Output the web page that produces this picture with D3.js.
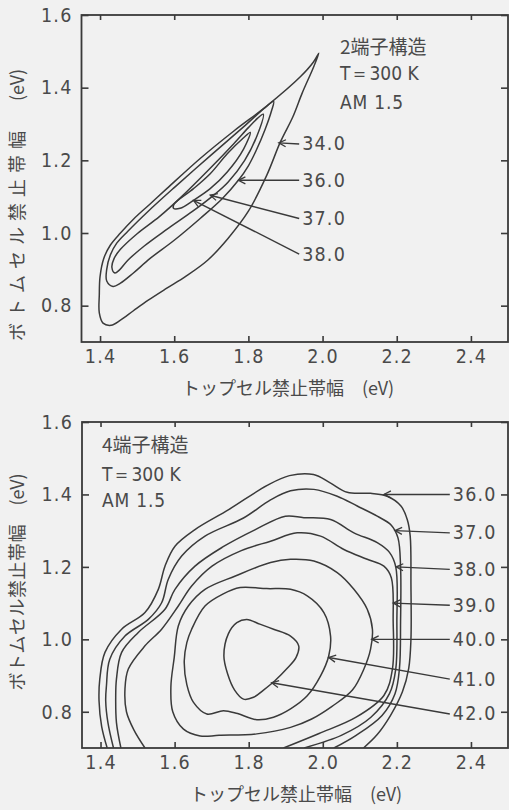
<!DOCTYPE html>
<html>
<head>
<meta charset="utf-8">
<script src="https://cdn.jsdelivr.net/npm/d3@7"></script>
<style>
  body { margin: 0; background: #f1f1f1; }
  svg { display: block; }
  .num { font-family: 'Liberation Sans Narrow', 'DejaVu Sans Condensed', 'Arial Narrow', sans-serif; font-size: 19.5px; fill: #4a4a4a; letter-spacing: 1.2px; }
  .info { font-family: 'DejaVu Sans Condensed', sans-serif; font-size: 19px; fill: #4a4a4a; letter-spacing: 0; }
  .jp { font-family: 'Noto Sans CJK JP', sans-serif; font-size: 18px; fill: #4a4a4a; }
  .contour { fill: none; stroke: #3a3a3a; stroke-width: 1.5; }
  .leader { stroke: #3a3a3a; stroke-width: 1.4; }
</style>
</head>
<body>
<script>
const W = 509, H = 810;

// shared axis ticks
const xTicks = [1.4, 1.6, 1.8, 2.0, 2.2, 2.4];
const yTicks = [0.8, 1.0, 1.2, 1.4, 1.6];

// --- 2-terminal panel: contour lines (top gap, bottom gap) in eV ---
const top34 = [[1.99,1.495],[1.975,1.455],[1.945,1.385],[1.92,1.32],[1.886,1.25],[1.85,1.16],[1.80,1.06],[1.745,0.985],[1.69,0.925],[1.63,0.88],[1.58,0.848],[1.53,0.815],[1.49,0.786],[1.455,0.76],[1.43,0.746],[1.408,0.752],[1.398,0.78],[1.398,0.83],[1.40,0.88],[1.41,0.93],[1.428,0.967],[1.455,1.0],[1.49,1.038],[1.535,1.08],[1.58,1.122],[1.67,1.205],[1.76,1.28],[1.85,1.35],[1.94,1.43],[1.975,1.47]];
const top36 = [[1.868,1.362],[1.862,1.335],[1.845,1.285],[1.82,1.225],[1.80,1.185],[1.773,1.145],[1.73,1.095],[1.67,1.04],[1.60,0.98],[1.535,0.93],[1.49,0.89],[1.455,0.862],[1.435,0.853],[1.418,0.868],[1.418,0.90],[1.428,0.94],[1.445,0.972],[1.475,1.005],[1.53,1.06],[1.60,1.125],[1.70,1.215],[1.79,1.295],[1.845,1.345]];
const top37 = [[1.84,1.327],[1.823,1.267],[1.79,1.20],[1.745,1.14],[1.705,1.103],[1.65,1.06],[1.58,1.01],[1.52,0.965],[1.475,0.925],[1.452,0.898],[1.44,0.89],[1.432,0.905],[1.438,0.93],[1.455,0.955],[1.50,0.998],[1.56,1.045],[1.62,1.10],[1.697,1.178],[1.76,1.245],[1.80,1.29],[1.825,1.316]];
const top38 = [[1.805,1.277],[1.787,1.231],[1.743,1.168],[1.697,1.122],[1.652,1.09],[1.616,1.068],[1.598,1.068],[1.60,1.08],[1.652,1.122],[1.697,1.163],[1.743,1.218],[1.787,1.262]];
const topLevels = ['34.0', '36.0', '37.0', '38.0'];
const topLabelY = [1.245, 1.145, 1.04, 0.942];
const topTargets = [[1.882,1.248],[1.773,1.145],[1.697,1.104],[1.652,1.09]];

// --- 4-terminal panel ---
const bot36 = [[1.418,0.70],[1.403,0.76],[1.396,0.83],[1.398,0.89],[1.412,0.964],[1.457,1.028],[1.52,1.074],[1.556,1.138],[1.574,1.202],[1.601,1.257],[1.655,1.303],[1.746,1.358],[1.85,1.425],[1.91,1.452],[1.975,1.455],[2.02,1.432],[2.066,1.406],[2.129,1.403],[2.174,1.395],[2.211,1.368],[2.228,1.331],[2.236,1.285],[2.238,1.15],[2.238,1.0],[2.232,0.92],[2.215,0.855],[2.183,0.79],[2.147,0.737],[2.11,0.70]];
const bot37 = [[1.435,0.70],[1.42,0.77],[1.414,0.83],[1.416,0.872],[1.425,0.945],[1.466,1.009],[1.529,1.055],[1.565,1.101],[1.583,1.166],[1.619,1.23],[1.682,1.285],[1.786,1.335],[1.859,1.385],[1.913,1.41],[1.976,1.414],[2.039,1.395],[2.093,1.368],[2.147,1.34],[2.185,1.315],[2.203,1.28],[2.21,1.2],[2.21,1.05],[2.207,0.92],[2.195,0.85],[2.16,0.79],[2.09,0.735],[2.03,0.70]];
const bot38 = [[1.455,0.70],[1.443,0.77],[1.441,0.84],[1.443,0.89],[1.457,0.964],[1.502,1.019],[1.574,1.083],[1.601,1.138],[1.655,1.202],[1.73,1.255],[1.818,1.303],[1.899,1.34],[1.949,1.336],[2.021,1.331],[2.084,1.294],[2.147,1.267],[2.18,1.24],[2.197,1.2],[2.2,1.05],[2.197,0.918],[2.18,0.85],[2.13,0.785],[2.05,0.735],[1.95,0.70]];
const bot39 = [[1.52,0.70],[1.49,0.75],[1.47,0.80],[1.466,0.863],[1.475,0.918],[1.52,0.982],[1.565,1.028],[1.61,1.092],[1.646,1.147],[1.701,1.202],[1.78,1.245],[1.859,1.271],[1.931,1.294],[1.994,1.285],[2.057,1.248],[2.12,1.221],[2.165,1.202],[2.185,1.17],[2.19,1.05],[2.188,0.918],[2.165,0.845],[2.09,0.785],[1.99,0.74],[1.894,0.70]];
const bot40 = [[1.599,0.95],[1.61,1.037],[1.637,1.092],[1.682,1.138],[1.764,1.175],[1.859,1.212],[1.913,1.221],[1.976,1.216],[2.039,1.184],[2.084,1.138],[2.12,1.083],[2.134,1.028],[2.129,0.973],[2.111,0.918],[2.08,0.86],[2.025,0.815],[1.97,0.78],[1.913,0.757],[1.822,0.739],[1.72,0.735],[1.669,0.733],[1.624,0.752],[1.595,0.80],[1.59,0.87]];
const bot41 = [[1.777,1.143],[1.849,1.14],[1.913,1.138],[1.958,1.12],[2.003,1.074],[2.021,1.009],[2.016,0.954],[1.994,0.899],[1.958,0.844],[1.913,0.808],[1.867,0.785],[1.822,0.778],[1.77,0.795],[1.732,0.803],[1.687,0.794],[1.651,0.826],[1.633,0.875],[1.626,0.94],[1.633,0.991],[1.646,1.028],[1.682,1.092],[1.73,1.125]];
const bot42 = [[1.768,1.046],[1.795,1.055],[1.83,1.042],[1.867,1.028],[1.913,1.009],[1.935,0.982],[1.928,0.95],[1.904,0.92],[1.87,0.885],[1.84,0.86],[1.813,0.84],[1.786,0.835],[1.762,0.86],[1.743,0.905],[1.733,0.955],[1.745,1.015]];
const botLevels = ['36.0', '37.0', '38.0', '39.0', '40.0', '41.0', '42.0'];
const botLabelY = [1.40, 1.294, 1.193, 1.094, 1.0, 0.89, 0.794];
const botTargets = [[2.165,1.40],[2.195,1.30],[2.198,1.20],[2.19,1.10],[2.132,1.0],[2.016,0.95],[1.862,0.88]];

const svg = d3.select('body').append('svg')
  .attr('width', W)
  .attr('height', H);

const defs = svg.append('defs');
defs.append('marker')
  .attr('id', 'arr')
  .attr('markerUnits', 'userSpaceOnUse')
  .attr('viewBox', '-8 -5 10 10')
  .attr('refX', 0).attr('refY', 0)
  .attr('markerWidth', 10).attr('markerHeight', 10)
  .attr('orient', 'auto')
  .append('path')
  .attr('d', 'M-7,-3.5L0,0L-7,3.5')
  .attr('fill', 'none')
  .attr('stroke', '#3a3a3a')
  .attr('stroke-width', 1.3);

function drawPanel(p) {
  const x = d3.scaleLinear().domain([1.35, 2.5]).range([p.left, p.right]);
  const y = d3.scaleLinear().domain([0.7, 1.6]).range([p.bottom, p.top]);
  const g = svg.append('g');

  const clipId = 'clip' + p.id;
  defs.append('clipPath').attr('id', clipId)
    .append('rect')
    .attr('x', p.left).attr('y', p.top)
    .attr('width', p.right - p.left).attr('height', p.bottom - p.top);

  // axes with inward ticks
  const fmt = d3.format('.1f');
  const xa = g.append('g').attr('transform', `translate(0,${p.bottom})`)
    .call(d3.axisBottom(x).tickValues(xTicks).tickSize(-6).tickPadding(7).tickFormat(fmt));
  const ya = g.append('g').attr('transform', `translate(${p.left},0)`)
    .call(d3.axisLeft(y).tickValues(yTicks).tickSize(-7).tickPadding(9).tickFormat(fmt));
  const xt = g.append('g').attr('transform', `translate(0,${p.top})`)
    .call(d3.axisTop(x).tickValues(xTicks).tickSize(-5).tickFormat(''));
  const yr = g.append('g').attr('transform', `translate(${p.right},0)`)
    .call(d3.axisRight(y).tickValues(yTicks).tickSize(-7).tickFormat(''));
  [xa, ya, xt, yr].forEach(a => {
    a.select('.domain').remove();
    a.selectAll('line').attr('stroke', '#3a3a3a').attr('stroke-width', 1.6);
    a.selectAll('text').attr('class', 'num').attr('fill', null).attr('font-size', null).attr('font-family', null);
  });

  g.append('rect')
    .attr('x', p.left).attr('y', p.top)
    .attr('width', p.right - p.left).attr('height', p.bottom - p.top)
    .attr('fill', 'none').attr('stroke', '#3a3a3a').attr('stroke-width', 1.8);

  // contours
  const open = d3.line().x(d => x(d[0])).y(d => y(d[1])).curve(d3.curveCatmullRom.alpha(0.5));
  const closed = d3.line().x(d => x(d[0])).y(d => y(d[1])).curve(d3.curveCatmullRomClosed.alpha(0.5));
  const cg = g.append('g').attr('clip-path', `url(#${clipId})`);
  p.openLines.forEach(c => cg.append('path').attr('class', 'contour').attr('d', open(c)));
  p.closedLines.forEach(c => cg.append('path').attr('class', 'contour').attr('d', closed(c)));

  // labels with arrows
  p.levels.forEach((lv, i) => {
    const ly = y(p.labelY[i]);
    const lx = x(p.labelX);
    g.append('line').attr('class', 'leader')
      .attr('x1', lx - 3).attr('y1', ly)
      .attr('x2', x(p.targets[i][0])).attr('y2', y(p.targets[i][1]))
      .attr('marker-end', 'url(#arr)');
    g.append('text').attr('class', 'num')
      .attr('x', lx).attr('y', ly)
      .attr('dominant-baseline', 'central')
      .text(lv);
  });

  // conditions text
  const info = g.append('g').attr('transform', `translate(${p.infoX},${p.infoY})`);
  info.append('text').attr('class', 'jp').style('font-size', '19px')
    .attr('y', 0).attr('dominant-baseline', 'central').text(p.title);
  info.append('text').attr('class', 'info').attr('y', p.infoStep[0]).attr('dominant-baseline', 'central').text('T＝300 K');
  info.append('text').attr('class', 'info').attr('y', p.infoStep[1]).attr('dominant-baseline', 'central')
    .style('letter-spacing', '0.8px').text('AM  1.5');

  // axis titles
  g.append('text').attr('class', 'jp')
    .attr('x', p.xTitleX).attr('y', p.bottom + 45)
    .attr('text-anchor', 'middle').attr('dominant-baseline', 'central')
    .text('トップセル禁止帯幅　(eV)');
  const yt = g.append('text').attr('class', 'jp')
    .attr('transform', `translate(16,${p.yTitleY}) rotate(-90)`)
    .attr('text-anchor', 'middle').attr('dominant-baseline', 'central');
  yt.append('tspan').style('letter-spacing', p.yTitleSpacing).text('ボトムセル禁止帯幅　');
  yt.append('tspan').text('(eV)');
}

drawPanel({
  id: 'a', left: 81.5, right: 508, top: 15, bottom: 342,
  openLines: [], closedLines: [top34, top36, top37, top38],
  levels: topLevels, labelY: topLabelY, targets: topTargets, labelX: 1.945,
  title: '2端子構造', infoX: 340, infoY: 45, infoStep: [28, 57],
  xTitleX: 288, yTitleY: 205, yTitleSpacing: '6px'
});

drawPanel({
  id: 'b', left: 82, right: 508, top: 422, bottom: 748,
  openLines: [bot36, bot37, bot38, bot39], closedLines: [bot40, bot41, bot42],
  levels: botLevels, labelY: botLabelY, targets: botTargets, labelX: 2.351,
  title: '4端子構造', infoX: 102, infoY: 443, infoStep: [31, 57],
  xTitleX: 296, yTitleY: 582, yTitleSpacing: '0.5px'
});
</script>
</body>
</html>
